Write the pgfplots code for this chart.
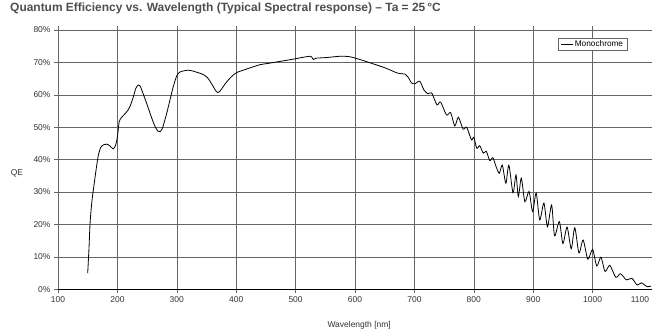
\documentclass[border=0pt]{standalone}
\usepackage{pgfplots}
\pgfplotsset{compat=1.18}
\usepackage{fontspec}
\setmainfont{Liberation Sans}
\definecolor{titlegray}{HTML}{4D4D4D}
\definecolor{gridgray}{HTML}{666666}
\definecolor{labelgray}{HTML}{333333}
\begin{document}
\begin{tikzpicture}
\begin{axis}[
  at={(58bp,43.7bp)}, anchor=south west,
  scale only axis, width=594bp, height=259.3bp,
  xmin=100, xmax=1100, ymin=0, ymax=80,
  xtick={100,200,...,1000}, ytick={0,10,...,80},
  yticklabel={\pgfmathprintnumber{\tick}\%},
  /pgf/number format/assume math mode=true,
  /pgf/number format/set thousands separator={},
  grid=major, major grid style={gridgray, line width=0.6bp},
  axis line style={gridgray, line width=0.6bp},
  tick align=outside, major tick length=4bp,
  tick style={gridgray, line width=0.6bp},
  ticklabel style={font=\fontsize{8.5}{10}\selectfont, text=labelgray},
  extra x ticks={1100}, extra x tick labels={1100},
  extra x tick style={xticklabel style={anchor=north east, xshift=0.5bp}},
  extra y ticks={0}, extra y tick labels={},
  extra y tick style={grid=major, major grid style={black, line width=1.2bp}, major tick length=0pt},
  title={Quantum Efficiency vs. Wavelength (Typical Spectral response) -- Ta = 25\,°C},
  title style={at={(-0.0808,1.050)}, anchor=base west, font=\fontsize{12}{14}\selectfont\bfseries, text=titlegray, inner sep=0pt},
  xlabel={Wavelength [nm]},
  xlabel style={at={(0.507,-0.138)}, anchor=center, font=\fontsize{8.5}{10}\selectfont, text=labelgray},
  ylabel={QE},
  ylabel style={at={(-0.069,0.449)}, anchor=center, rotate=-90, font=\fontsize{8.5}{10}\selectfont, text=labelgray},
  legend style={at={(0.958,0.969)}, anchor=north east, draw=gridgray, line width=0.5bp,
    font=\fontsize{8.3}{9}\selectfont, inner xsep=2.5bp, inner ysep=0.8bp, row sep=0pt,
    nodes={inner sep=1.2bp}},
  legend image code/.code={\draw[#1, line width=0.8bp] (0bp,0bp) -- (12bp,0bp);},
]
\addplot[black, line width=0.8bp, smooth, tension=0.45] coordinates {
(150,5.0) (152,12.0) (154,20.4) (157,27.0) (161,32.7) (165,38.0) (168,41.4) (172,43.8)
(177,44.6) (182,44.8) (187,44.3) (193,43.3) (197,44.5) (200,47.0) (203,51.7) (207,53.0)
(212,54.0) (218,55.3) (222,56.8) (227,59.5) (231,62.0) (235,63.0) (238,62.8) (241,61.5)
(248,58.0) (255,54.3) (262,50.8) (268,48.8) (272,48.6) (276,49.8) (283,54.3) (289,58.8)
(294,62.5) (300,65.9) (305,67.0) (312,67.4) (319,67.6) (326,67.4) (333,67.0) (340,66.6)
(347,66.0) (353,65.0) (360,63.0) (365,61.4) (369,60.7) (373,61.2) (378,62.5) (384,64.0)
(392,65.6) (401,66.9) (412,67.6) (423,68.3) (440,69.3) (454,69.7) (470,70.2) (496,71.0)
(510,71.5) (524,71.9) (527,71.7) (530,70.9) (534,71.3) (552,71.5) (575,71.9) (590,71.8)
(597,71.5) (610,70.8) (625,69.9) (648,68.5) (660,67.6) (670,66.8) (678,66.5) (684,66.4)
(690,65.3) (695,63.7) (701,63.4) (709,64.2) (716,61.5) (723,60.3) (729,60.6) (738,56.9)
(744,57.8) (754,53.8) (761,54.5) (768,50.4) (774,53.1) (782,49.4) (788,50.0) (796,46.1)
(800,46.9) (805,43.5) (810,44.3) (816,42.0) (821,42.6) (827,39.7) (832,40.6) (838,37.6)
(843,35.8) (848,38.3) (854,32.7) (859,38.3) (866,29.8) (871,35.3) (875,28.6) (880,34.3)
(886,27.0) (893,30.2) (899,24.0) (905,29.7) (911,21.4) (918,26.6) (924,19.3) (931,26.0)
(936,16.5) (944,20.9) (950,14.1) (957,19.2) (964,12.5) (970,19.0) (977,11.2) (984,15.2)
(992,9.3) (1000,12.3) (1007,7.2) (1014,9.9) (1021,5.5) (1029,7.4) (1039,3.7) (1047,4.8)
(1057,2.9) (1066,3.4) (1075,1.3) (1082,2.0) (1092,0.8) (1098,1.0)
};
\addlegendentry{Monochrome}
\end{axis}
\pgfresetboundingbox
\path[use as bounding box] (0bp,0bp) rectangle (652bp,333bp);
\end{tikzpicture}
\end{document}
